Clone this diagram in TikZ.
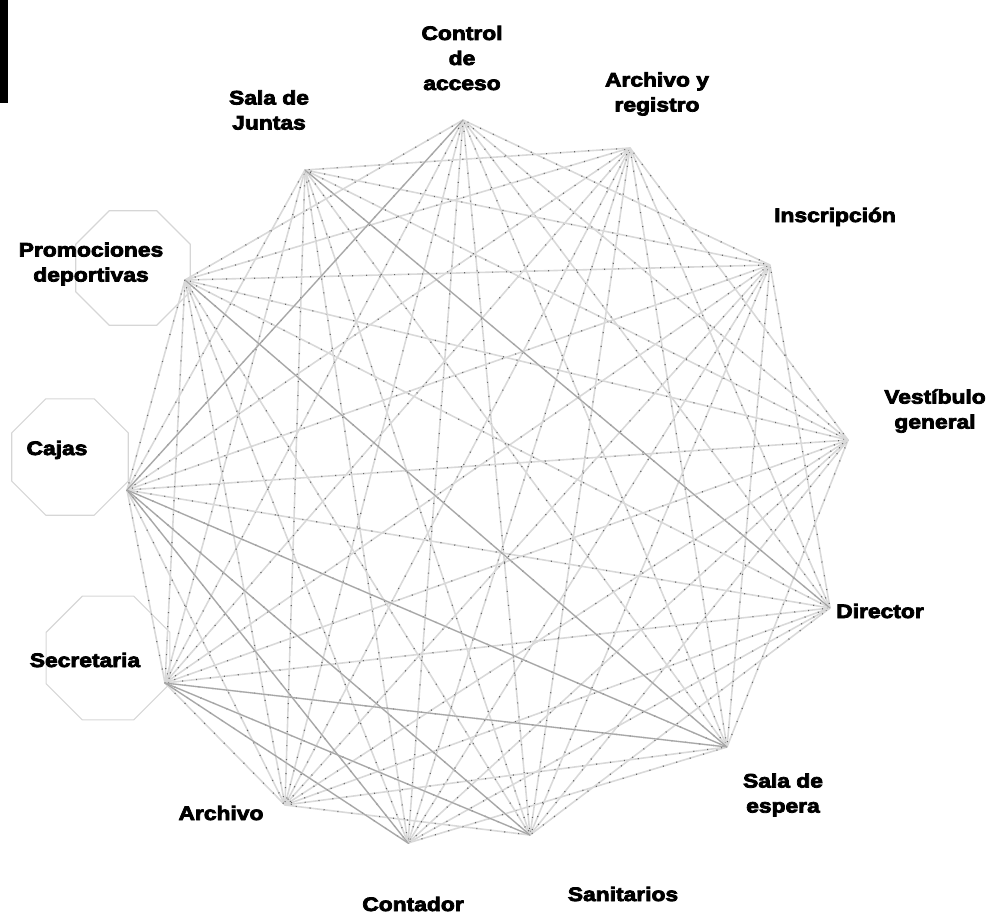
\documentclass[tikz,border=0pt]{standalone}
\usepackage{fontspec}
\setmainfont{Liberation Sans}[BoldFeatures={FakeBold=4,FakeStretch=1.17}]
\usetikzlibrary{shapes.geometric}

\tikzset{
  label/.style={font=\bfseries\fontsize{19.5}{25}\selectfont, inner sep=0pt, align=center, text=black},
  octa/.style={regular polygon, regular polygon sides=8, draw=black!16, line width=1.1pt, inner sep=0pt},
  edge/.style={draw=black!15, line width=1.6pt},
  strongedge/.style={draw=black!35, line width=1.1pt},
  speck/.style={draw=black!60, line width=1.2pt, dash pattern=on 1pt off 13pt},
}

\begin{document}
\begin{tikzpicture}[x=1pt,y=-1pt]
\useasboundingbox (0,0) rectangle (992,915);

% corner mark
\fill[black] (0,0) rectangle (8,103);

% octagonal outlines of the left-hand spaces
\node[octa, minimum size=124pt] (prom-oct) at (133,268) {};
\node[octa, minimum size=126pt] (caja-oct) at (70,457) {};
\node[octa, minimum size=134pt] (secr-oct) at (108,658) {};

% connection points of each space
\coordinate (ctrl)  at (463,120);
\coordinate (arch)  at (630,148);
\coordinate (insc)  at (770,265);
\coordinate (vest)  at (848,440);
\coordinate (dir)   at (830,608);
\coordinate (espe)  at (727,747);
\coordinate (sani)  at (530,835);
\coordinate (cont)  at (408,843);
\coordinate (archv) at (285,805);
\coordinate (secr)  at (165,683);
\coordinate (caja)  at (127,490);
\coordinate (prom)  at (185,280);
\coordinate (junt)  at (305,170);

% relationship lines between spaces that are not next to each other
\foreach \a [count=\i] in {ctrl,arch,insc,vest,dir,espe,sani,cont,archv,secr,caja,prom,junt}{
  \foreach \b [count=\j] in {ctrl,arch,insc,vest,dir,espe,sani,cont,archv,secr,caja,prom,junt}{
    \pgfmathtruncatemacro\d{\j-\i}
    \pgfmathtruncatemacro\ph{mod(\i*7+\j*5,13)}
    \ifnum\d>1 \ifnum\d<12
      \draw[edge] (\a) -- (\b);
      \draw[speck, dash phase=\ph pt] (\a) -- (\b);
    \fi\fi
  }
}

% neighbouring spaces on the left side
\foreach \a/\b in {prom/caja, caja/secr, secr/archv}{
  \draw[edge] (\a) -- (\b);
  \draw[speck] (\a) -- (\b);
}

% stronger relationships
\foreach \a/\b in {caja/cont, secr/cont, secr/sani, caja/sani, prom/espe, secr/espe, caja/espe, ctrl/caja, junt/dir}{
  \draw[strongedge] (\a) -- (\b);
}

% labels
\node[label] (t-ctrl)  at (462,58)   {Control\\de\\acceso};
\node[label] (t-arch)  at (657,94)   {Archivo y\\registro};
\node[label] (t-junt)  at (269,110)  {Sala de\\Juntas};
\node[label, anchor=base] (t-insc) at (835,222) {Inscripción};
\node[label] (t-vest)  at (935,411)  {Vestíbulo\\general};
\node[label, anchor=base] (t-dir)  at (880,618) {Director};
\node[label] (t-espe)  at (783,795)  {Sala de\\espera};
\node[label, anchor=base] (t-sani) at (623,901) {Sanitarios};
\node[label, anchor=base] (t-cont) at (413,911) {Contador};
\node[label, anchor=base] (t-archv) at (221,820) {Archivo};
\node[label, anchor=base] (t-secr) at (85,667) {Secretaria};
\node[label, anchor=base] (t-caja) at (57,455) {Cajas};
\node[label] (t-prom)  at (91,264)   {Promociones\\deportivas};
\end{tikzpicture}
\end{document}
